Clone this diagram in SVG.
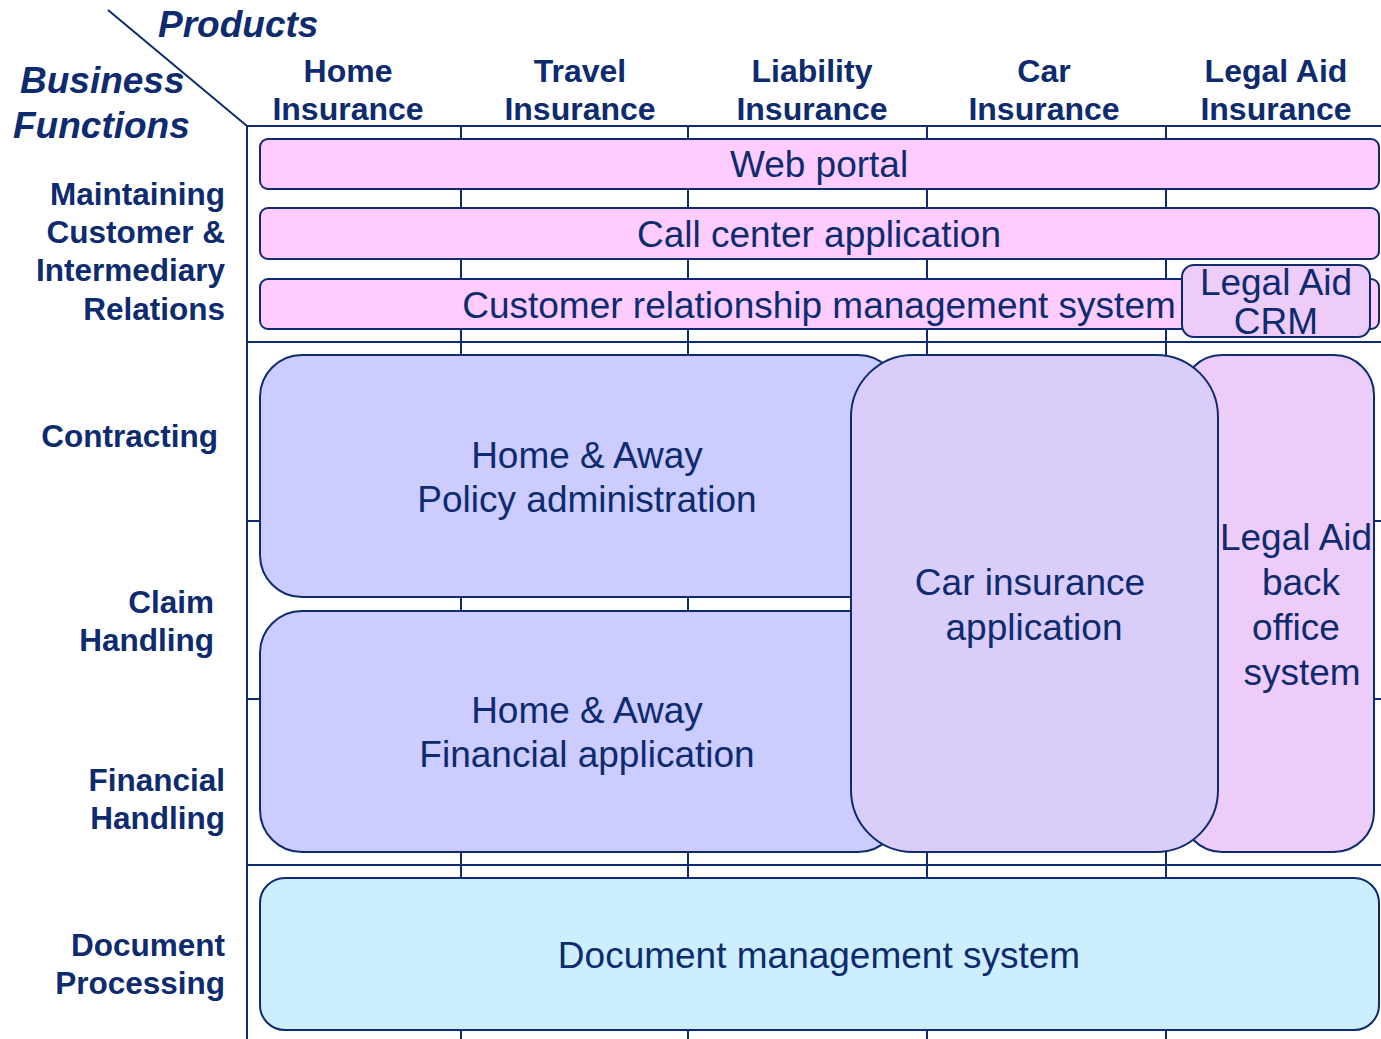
<svg xmlns="http://www.w3.org/2000/svg" width="1381" height="1039" viewBox="0 0 1381 1039">
<style>
.ln{stroke:#0d2b6e;stroke-width:2;fill:none}
.bx{stroke:#0d2b6e;stroke-width:2}
.t{font-family:"Liberation Sans",Arial,sans-serif;fill:#0d2b6e;font-size:37px;text-anchor:middle}
.h{font-family:"Liberation Sans",Arial,sans-serif;fill:#0d2b6e;font-size:32px;font-weight:bold;text-anchor:middle}
.r{font-family:"Liberation Sans",Arial,sans-serif;fill:#0d2b6e;font-size:31.5px;font-weight:bold;text-anchor:end}
.bi{font-family:"Liberation Sans",Arial,sans-serif;fill:#0d2b6e;font-size:37px;font-weight:bold;font-style:italic}
.pink{fill:#ffccff}.blue{fill:#ccccff}.car{fill:#dacdfa}.leg{fill:#eeccfa}.doc{fill:#cceeff}
</style>
<rect width="1381" height="1039" fill="#ffffff"/>
<g id="grid">
<line class="ln" x1="108" y1="10" x2="247" y2="126"/>
<line class="ln" x1="247" y1="126" x2="1381" y2="126"/>
<line class="ln" x1="247" y1="126" x2="247" y2="1039"/>
<line class="ln" x1="461" y1="126" x2="461" y2="1039"/>
<line class="ln" x1="688" y1="126" x2="688" y2="1039"/>
<line class="ln" x1="927" y1="126" x2="927" y2="1039"/>
<line class="ln" x1="1166" y1="126" x2="1166" y2="1039"/>
<line class="ln" x1="247" y1="342" x2="1381" y2="342"/>
<line class="ln" x1="247" y1="521" x2="1381" y2="521"/>
<line class="ln" x1="247" y1="699" x2="1381" y2="699"/>
<line class="ln" x1="247" y1="865" x2="1381" y2="865"/>
</g>
<g id="headers">
<text class="bi" x="158" y="37">Products</text>
<text class="bi" x="20" y="93">Business</text>
<text class="bi" x="13" y="138">Functions</text>
<text class="h" x="348" y="82">Home</text><text class="h" x="348" y="120">Insurance</text>
<text class="h" x="580" y="82">Travel</text><text class="h" x="580" y="120">Insurance</text>
<text class="h" x="812" y="82">Liability</text><text class="h" x="812" y="120">Insurance</text>
<text class="h" x="1044" y="82">Car</text><text class="h" x="1044" y="120">Insurance</text>
<text class="h" x="1276" y="82">Legal Aid</text><text class="h" x="1276" y="120">Insurance</text>
<text class="r" x="225" y="205">Maintaining</text>
<text class="r" x="225" y="243">Customer &amp;</text>
<text class="r" x="225" y="281">Intermediary</text>
<text class="r" x="225" y="320">Relations</text>
<text class="r" x="218" y="447">Contracting</text>
<text class="r" x="214" y="613">Claim</text>
<text class="r" x="214" y="651">Handling</text>
<text class="r" x="225" y="791">Financial</text>
<text class="r" x="225" y="829">Handling</text>
<text class="r" x="225" y="956">Document</text>
<text class="r" x="225" y="994">Processing</text>
</g>
<g id="web-portal">
<rect class="bx pink" x="260" y="139" width="1119" height="50" rx="8"/>
<text class="t" x="819" y="177">Web portal</text>
</g>
<g id="call-center">
<rect class="bx pink" x="260" y="208" width="1119" height="51" rx="8"/>
<text class="t" x="819" y="247">Call center application</text>
</g>
<g id="crm">
<rect class="bx pink" x="260" y="279" width="1119" height="50" rx="8"/>
<text class="t" x="819" y="318">Customer relationship management system</text>
</g>
<g id="legal-crm">
<rect class="bx leg" x="1182" y="265" width="188" height="72" rx="12"/>
<text class="t" x="1276" y="295">Legal Aid</text>
<text class="t" x="1276" y="334">CRM</text>
</g>
<g id="policy-admin">
<rect class="bx blue" x="260" y="355" width="640" height="242" rx="42"/>
<text class="t" x="587" y="468">Home &amp; Away</text>
<text class="t" x="587" y="512">Policy administration</text>
</g>
<g id="financial-app">
<rect class="bx blue" x="260" y="611" width="640" height="241" rx="42"/>
<text class="t" x="587" y="723">Home &amp; Away</text>
<text class="t" x="587" y="767">Financial application</text>
</g>
<g id="legal-back-office">
<rect class="bx leg" x="1182" y="355" width="192" height="497" rx="40"/>
<text class="t" x="1296" y="550">Legal Aid</text>
<text class="t" x="1301" y="595">back</text>
<text class="t" x="1296" y="640">office</text>
<text class="t" x="1302" y="685">system</text>
</g>
<g id="car-app">
<rect class="bx car" x="851" y="355" width="367" height="497" rx="62"/>
<text class="t" x="1030" y="595">Car insurance</text>
<text class="t" x="1034" y="640">application</text>
</g>
<g id="dms">
<rect class="bx doc" x="260" y="878" width="1119" height="152" rx="25"/>
<text class="t" x="819" y="968">Document management system</text>
</g>
<g id="connectors"></g>
</svg>
